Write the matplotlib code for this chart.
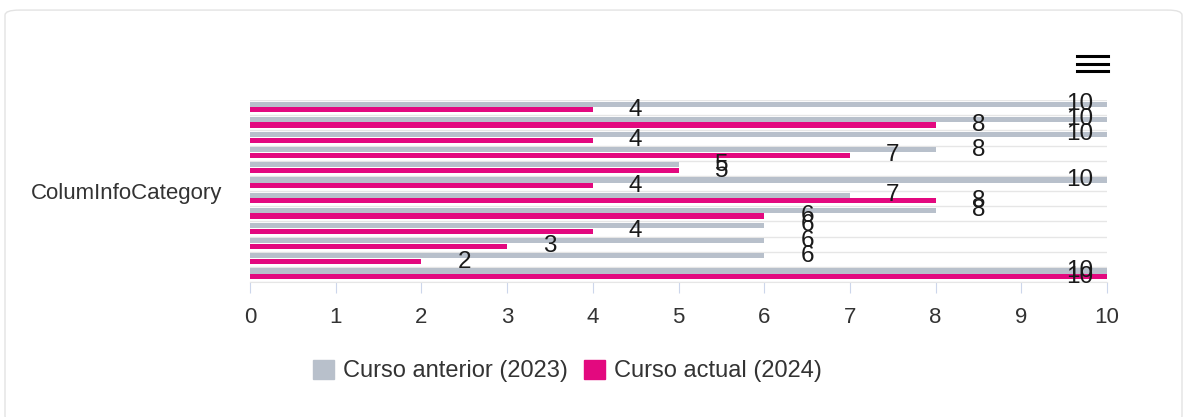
import matplotlib.pyplot as plt
from matplotlib.patches import Patch, FancyBboxPatch
from matplotlib.lines import Line2D

plt.rcParams['font.family'] = ['Liberation Sans', 'DejaVu Sans']

category = 'ColumInfoCategory'
series_names = ['Curso anterior (2023)', 'Curso actual (2024)']
# one pair of bars per row, top to bottom
anterior = [10, 10, 10, 8, 5, 10, 7, 8, 6, 6, 6, 10]
actual = [4, 8, 4, 7, 5, 4, 8, 6, 4, 3, 2, 10]
x_ticks = [0, 1, 2, 3, 4, 5, 6, 7, 8, 9, 10]

grey = '#b8c0cb'
pink = '#e3097f'

fig = plt.figure(figsize=(11.87, 4.17), dpi=100)

# card frame
card = FancyBboxPatch((5 / 1187, -0.01), 1177 / 1187, 1 - 8 / 417 + 0.005,
                      boxstyle='round,pad=0,rounding_size=0.012',
                      transform=fig.transFigure, facecolor='white',
                      edgecolor='#e3e3e3', lw=1, zorder=-10)
fig.patches.append(card)

ax = fig.add_axes([250 / 1187, 1 - 282 / 417, 857 / 1187, 182 / 417])
ax.set_facecolor('none')

n = len(anterior)
rows = list(range(n))
h = 0.34
ax.barh([r + 0.27 for r in rows], anterior, height=h, color=grey, zorder=2)
ax.barh([r + 0.65 for r in rows], actual, height=h, color=pink, zorder=3)

for r in rows:
    ax.axhline(r, color='#e6e6e6', lw=1, zorder=1)
ax.axhline(n, color='#e6e6e6', lw=1, zorder=1)

def lab_x(v):
    return min(v + 0.5, 9.68)

for r in rows:
    ax.text(lab_x(anterior[r]), r + 0.27, str(anterior[r]), ha='center', va='center',
            fontsize=17.5, color='#1a1a1a', zorder=5)
    ax.text(lab_x(actual[r]), r + 0.65, str(actual[r]), ha='center', va='center',
            fontsize=17.5, color='#1a1a1a', zorder=5)

ax.set_xlim(0, 10)
ax.set_ylim(n, 0)
ax.set_xticks(x_ticks)
ax.set_xticklabels([str(t) for t in x_ticks], fontsize=16, color='#333333')
ax.tick_params(axis='x', length=8, color='#ccd6eb', pad=10)
ax.set_yticks([n / 2])
ax.set_yticklabels([category], fontsize=16, color='#333333')
ax.tick_params(axis='y', length=0, pad=20)
for s in ['top', 'right', 'left']:
    ax.spines[s].set_visible(False)
ax.spines['bottom'].set_color('#e6e6e6')

# menu icon
for yy in [56, 63.5, 71]:
    fig.add_artist(Line2D([1077 / 1187, 1108 / 1187], [1 - yy / 417, 1 - yy / 417],
                          color='black', lw=2.2, transform=fig.transFigure))

handles = [Patch(facecolor=grey, edgecolor=grey), Patch(facecolor=pink, edgecolor=pink)]
fig.legend(handles, series_names, loc='center', bbox_to_anchor=(0.478, 1 - 371 / 417),
           ncol=2, frameon=False, fontsize=17, handlelength=0.9, handleheight=0.9,
           handletextpad=0.35, columnspacing=0.7, labelcolor='#333333')

fig.savefig('out.png', dpi=100)
